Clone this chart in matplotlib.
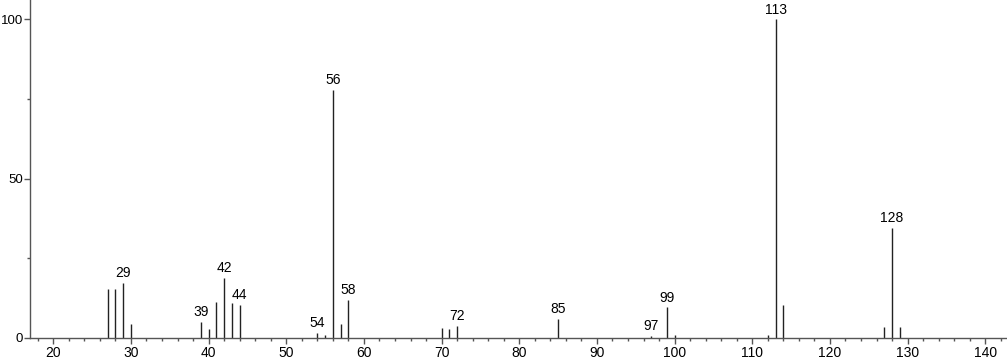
import matplotlib
matplotlib.use("Agg")
import matplotlib.pyplot as plt
from matplotlib.ticker import MultipleLocator

# m/z and relative intensity
mz = [27, 28, 29, 30, 39, 40, 41, 42, 43, 44, 54, 55, 56, 57, 58,
      70, 71, 72, 85, 97, 99, 100, 112, 113, 114, 127, 128, 129]
intensity = [15.2, 15.2, 17.1, 4.3, 5.0, 2.7, 11.3, 18.9, 10.8, 10.3, 1.4, 0.8, 77.8, 4.3, 12.0,
             2.9, 2.6, 3.6, 5.9, 0.6, 9.5, 0.8, 0.8, 100.0, 10.3, 3.3, 34.4, 3.3]
labelled = [29, 39, 42, 44, 54, 56, 58, 72, 85, 97, 99, 113, 128]

plt.rcParams['font.family'] = ['Liberation Sans', 'DejaVu Sans']

fig = plt.figure(figsize=(10.07, 3.62), dpi=100)
ax = fig.add_axes([30 / 1007, 24.3 / 362, 1 - 30 / 1007, 1 - 24.3 / 362])

ax.vlines(mz, 0, intensity, colors='#222222', linewidth=1.0)
for m, h in zip(mz, intensity):
    if m in labelled:
        ax.annotate(str(m), (m, h), xytext=(0, 2), textcoords='offset points',
                    ha='center', va='bottom', fontsize=10, color='black')

ax.set_xlim(17.0, 142.8)
ax.set_ylim(0, 106.1)
ax.xaxis.set_major_locator(MultipleLocator(10))
ax.xaxis.set_minor_locator(MultipleLocator(2))
ax.yaxis.set_major_locator(MultipleLocator(50))
ax.yaxis.set_minor_locator(MultipleLocator(25))
ax.tick_params(which='major', length=4, width=1, color='#555555', labelsize=9.5, pad=1)
ax.tick_params(which='minor', length=2.5, width=1, color='#555555')
ax.tick_params(axis='x', which='major', pad=2, labelsize=10)
for s in ['top', 'right']:
    ax.spines[s].set_visible(False)
for s in ['left', 'bottom']:
    ax.spines[s].set_color('#555555')
    ax.spines[s].set_linewidth(1)

fig.savefig("out.png", dpi=100)
